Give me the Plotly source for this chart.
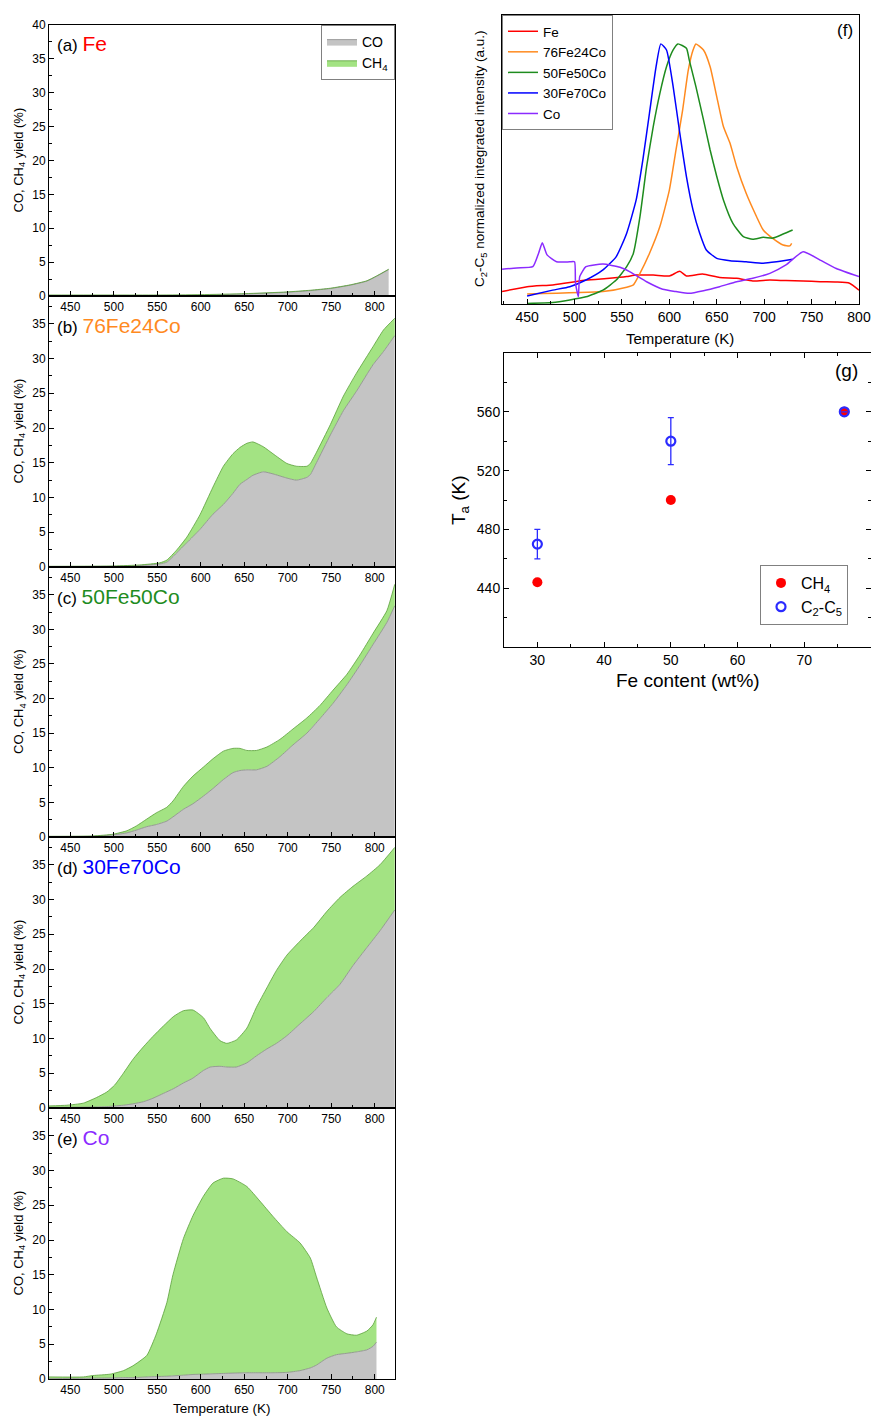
import plotly.graph_objects as go

W, H = 871, 1416
FONT = "Liberation Sans, Arial, sans-serif"

# ---------------- data: panels (a)-(e)  (temperature K, CO yield %, CO+CH4 total %) -------------
T_a = [425, 500, 550, 600, 651, 699, 726, 749, 772, 791, 802, 816]
CO_a = [0.05, 0.05, 0.05, 0.1, 0.3, 0.55, 0.8, 1.1, 1.6, 2.2, 2.9, 3.9]
TOT_a = [0.15, 0.15, 0.15, 0.2, 0.35, 0.6, 0.85, 1.15, 1.65, 2.25, 2.95, 3.95]

T_b = [425, 500, 530, 553, 561, 572, 584, 599, 614, 626, 637, 645, 653, 660, 672, 683,
       699, 710, 722, 726, 733, 749, 764, 779, 798, 810, 823]
CO_b = [0.05, 0.1, 0.2, 0.45, 0.7, 2.0, 3.5, 5.4, 7.6, 9.0, 10.6, 11.9, 12.6, 13.2, 13.7, 13.4,
        12.8, 12.5, 12.9, 13.3, 15.0, 19.0, 22.5, 25.3, 29.1, 31.0, 33.3]
TOT_b = [0.1, 0.15, 0.3, 0.6, 1.0, 2.4, 4.3, 7.5, 11.5, 14.5, 16.3, 17.2, 17.8, 18.0, 17.3, 16.3,
         14.9, 14.5, 14.5, 14.9, 16.5, 20.5, 24.6, 27.9, 31.7, 34.1, 35.8]

T_c = [425, 476, 499, 515, 526, 538, 549, 561, 568, 580, 591, 603, 614, 626, 637, 645, 653,
       664, 676, 691, 706, 722, 737, 752, 768, 783, 798, 814, 823]
CO_c = [0.05, 0.1, 0.3, 0.6, 1.0, 1.5, 1.8, 2.3, 2.9, 4.0, 4.8, 5.9, 7.0, 8.3, 9.3, 9.6, 9.7,
        9.7, 10.2, 11.6, 13.3, 15.0, 17.1, 19.3, 22.0, 24.8, 27.8, 31.0, 33.4]
TOT_c = [0.1, 0.15, 0.4, 0.9, 1.6, 2.6, 3.5, 4.3, 5.2, 7.3, 8.8, 10.1, 11.3, 12.4, 12.8, 12.8, 12.5,
         12.5, 13.0, 14.1, 15.6, 17.2, 19.0, 21.2, 23.5, 26.3, 29.4, 32.7, 36.5]

T_d = [425, 446, 465, 480, 492, 501, 511, 522, 534, 545, 557, 569, 580, 591, 603, 611, 622, 630,
       641, 653, 664, 676, 687, 699, 714, 730, 745, 760, 775, 791, 806, 823]
CO_d = [0.1, 0.1, 0.12, 0.15, 0.2, 0.3, 0.4, 0.6, 0.9, 1.4, 2.1, 2.8, 3.6, 4.3, 5.4, 5.9, 6.0, 5.9,
        5.9, 6.5, 7.5, 8.5, 9.3, 10.4, 12.1, 13.9, 15.9, 17.8, 20.5, 23.1, 25.5, 28.5]
TOT_d = [0.3, 0.4, 0.7, 1.5, 2.3, 3.3, 5.0, 7.0, 8.8, 10.3, 11.8, 13.2, 14.0, 14.1, 13.0, 11.4, 9.7, 9.3,
         9.8, 11.5, 14.5, 17.3, 19.8, 22.0, 24.0, 26.0, 28.3, 30.3, 31.9, 33.4, 35.0, 37.5]

T_e = [425, 465, 476, 496, 511, 522, 538, 549, 561, 568, 580, 591, 603, 614, 626, 637, 653, 668,
       683, 699, 714, 726, 733, 745, 756, 768, 779, 791, 798, 802]
CO_e = [0.05, 0.1, 0.12, 0.15, 0.2, 0.2, 0.3, 0.35, 0.4, 0.45, 0.55, 0.65, 0.7, 0.75, 0.8, 0.85, 0.9, 0.9,
        0.9, 0.95, 1.2, 1.6, 2.0, 3.0, 3.5, 3.7, 3.9, 4.2, 4.7, 5.3]
TOT_e = [0.3, 0.3, 0.5, 0.7, 1.2, 1.9, 3.4, 6.5, 11.0, 15.0, 20.2, 23.5, 26.3, 28.2, 28.9, 28.8, 27.7, 25.6,
         23.4, 21.2, 19.6, 17.4, 14.7, 10.2, 7.5, 6.5, 6.3, 6.9, 7.8, 8.9]

panel_letters = ["(a)", "(b)", "(c)", "(d)", "(e)"]
panel_names = ["Fe", "76Fe24Co", "50Fe50Co", "30Fe70Co", "Co"]
panel_colors = ["#FF0000", "#FF8A1F", "#1E8C1E", "#0000FF", "#8B2BFF"]

# ---------------- data: panel (f)  normalized C2-C5 intensity (a.u.) -------------
f_names = ["Fe", "76Fe24Co", "50Fe50Co", "30Fe70Co", "Co"]
f_T_Fe = [423.6, 450, 477, 495, 512, 537, 555, 565, 583, 600, 611, 618, 635, 653, 671, 688, 706, 723,
          741, 759, 776, 790, 800]
f_I_Fe = [4.3, 6.0, 6.6, 7.4, 8.3, 8.9, 9.5, 10.0, 10.0, 9.7, 11.3, 9.7, 10.4, 9.2, 8.9, 8.0, 8.3, 8.1,
          8.0, 7.7, 7.6, 7.2, 4.8]
f_T_76 = [450, 530, 555, 562, 569, 579, 590, 600, 607, 614, 620, 625, 628, 636, 643, 650, 657, 664,
          671, 681, 692, 699, 709, 720, 727, 729]
f_I_76 = [3.5, 4.3, 5.8, 6.6, 10.6, 17.5, 26.8, 39.4, 53.3, 67.1, 81.0, 87.9, 90.0, 87.9, 82.1, 71.7,
          61.4, 55.6, 47.5, 38.3, 30.2, 25.6, 22.7, 20.4, 20.1, 21.0]
f_T_50 = [450, 477, 495, 512, 530, 544, 555, 562, 569, 576, 583, 590, 597, 604, 609, 618, 621, 628,
          636, 643, 650, 657, 667, 678, 688, 699, 709, 720, 730]
f_I_50 = [0.2, 0.5, 1.4, 2.5, 4.8, 8.3, 12.9, 17.5, 30.2, 47.5, 61.4, 72.9, 82.1, 87.9, 90.0, 88.5,
          84.4, 75.2, 63.7, 53.3, 44.1, 36.0, 27.9, 23.3, 22.4, 23.1, 22.8, 24.2, 25.6]
f_T_30 = [450, 477, 495, 512, 530, 544, 555, 565, 572, 579, 586, 591, 597, 604, 611, 618, 625, 632,
          639, 650, 664, 681, 699, 713, 730]
f_I_30 = [2.8, 4.8, 6.0, 8.3, 11.8, 16.4, 24.5, 36.0, 49.8, 66.0, 82.1, 90.0, 87.9, 75.2, 59.1, 44.1,
          32.5, 24.5, 18.7, 15.8, 15.0, 14.6, 14.1, 14.6, 15.5]
f_T_Co = [423.6, 439, 456, 462, 466, 471, 481, 495, 500, 501, 504, 505.5, 512, 530, 548, 558, 576,
          593, 607, 621, 636, 653, 671, 688, 706, 723, 741, 759, 776, 800]
f_I_Co = [12.0, 12.5, 12.9, 17.5, 21.2, 17.0, 14.6, 14.6, 14.6, 7.2, 2.5, 9.5, 12.9, 13.8, 12.7, 11.2,
          7.7, 5.1, 4.3, 3.7, 4.6, 6.0, 7.7, 8.9, 10.6, 13.5, 18.1, 15.2, 12.3, 9.5]
f_colors = ["#FF0000", "#FF8A1F", "#1E8C1E", "#0000FF", "#8B2BFF"]

# ---------------- data: panel (g) -------------
g_fe = [30, 50, 76]
g_ch4 = [444, 500, 560]
g_c2c5 = [470, 540, 560]
g_c2c5_err = [10, 16, 0]

# ---------------- layout helpers -------------
def px_x(p):
    return p / W

def px_y(p):
    return 1 - p / H

left_dom = [px_x(49), px_x(395)]
rows = [(25, 296), (296, 567), (567, 837), (837, 1108), (1108, 1379)]

GRAY_FILL = "#C4C4C4"
GRAY_LINE = "#8A8A8A"
GREEN_FILL = "#A3E383"
GREEN_LINE = "#5AA03A"

fig = go.Figure()
layout = dict(
    width=W, height=H, margin=dict(l=0, r=0, t=0, b=0, autoexpand=False),
    paper_bgcolor="white", plot_bgcolor="white",
    font=dict(family=FONT, size=12, color="black"),
    showlegend=True,
    annotations=[],
)

T_list = [T_a, T_b, T_c, T_d, T_e]
CO_list = [CO_a, CO_b, CO_c, CO_d, CO_e]
TOT_list = [TOT_a, TOT_b, TOT_c, TOT_d, TOT_e]

for i in range(5):
    n = i + 1
    xa = "x" if n == 1 else f"x{n}"
    ya = "y" if n == 1 else f"y{n}"
    fig.add_trace(go.Scatter(
        x=T_list[i], y=CO_list[i], xaxis=xa, yaxis=ya, mode="lines",
        line=dict(color=GRAY_LINE, width=0.8, shape="spline", smoothing=0.5),
        fill="tozeroy", fillcolor=GRAY_FILL,
        name="CO", legend="legend", showlegend=(i == 0), hoverinfo="skip"))
    fig.add_trace(go.Scatter(
        x=T_list[i], y=TOT_list[i], xaxis=xa, yaxis=ya, mode="lines",
        line=dict(color=GREEN_LINE, width=0.8, shape="spline", smoothing=0.5),
        fill="tonexty", fillcolor=GREEN_FILL,
        name="CH<sub>4</sub>", legend="legend", showlegend=(i == 0), hoverinfo="skip"))

    top, bot = rows[i]
    xkey = "xaxis" if n == 1 else f"xaxis{n}"
    ykey = "yaxis" if n == 1 else f"yaxis{n}"
    layout[xkey] = dict(
        domain=left_dom, anchor=ya, range=[425.5, 823.3], automargin=False,
        tickmode="array", tickvals=[450, 500, 550, 600, 650, 700, 750, 800],
        ticks="inside", ticklen=5, tickwidth=1, tickcolor="black",
        minor=dict(ticks="inside", ticklen=3, dtick=25, tick0=425, tickcolor="black"),
        showline=True, linecolor="black", linewidth=1, mirror=True,
        showgrid=False, zeroline=False, tickfont=dict(size=12, family=FONT),
    )
    yr = [0, 40] if n == 1 else [0, 39]
    layout[ykey] = dict(
        domain=[px_y(bot), px_y(top)], anchor=xa, range=yr, automargin=False,
        dtick=5, tick0=0, ticks="inside", ticklen=5, tickwidth=1, tickcolor="black",
        minor=dict(ticks="inside", ticklen=3, dtick=2.5, tick0=0, tickcolor="black"),
        showline=True, linecolor="black", linewidth=1, mirror=True,
        showgrid=False, zeroline=False, tickfont=dict(size=12, family=FONT),
    )
    ylab = 37.3 if n == 1 else 34.8
    layout["annotations"].append(dict(
        xref=xa, yref=ya, x=432, y=ylab, xanchor="left", yanchor="middle", showarrow=False,
        text=f"{panel_letters[i]} <span style='color:{panel_colors[i]};font-size:21px'>{panel_names[i]}</span>",
        font=dict(size=17, family=FONT, color="black")))
    layout["annotations"].append(dict(
        xref="paper", yref="paper", x=px_x(19), y=px_y((top + bot) / 2), textangle=-90,
        xanchor="center", yanchor="middle", showarrow=False,
        text="CO, CH<sub>4</sub> yield (%)", font=dict(size=13, family=FONT)))

layout["annotations"].append(dict(
    xref="paper", yref="paper", x=px_x(222), y=px_y(1408), xanchor="center", yanchor="middle",
    showarrow=False, text="Temperature (K)", font=dict(size=13.5, family=FONT)))

layout["legend"] = dict(
    x=px_x(395), y=px_y(25), xanchor="right", yanchor="top", traceorder="normal",
    bgcolor="white", bordercolor="#808080", borderwidth=1,
    font=dict(size=14, family=FONT), tracegroupgap=0, itemwidth=30)

# ---------------- panel (f) -------------
f_T = [f_T_Fe, f_T_76, f_T_50, f_T_30, f_T_Co]
f_I = [f_I_Fe, f_I_76, f_I_50, f_I_30, f_I_Co]
for k in range(5):
    fig.add_trace(go.Scatter(
        x=f_T[k], y=f_I[k], xaxis="x6", yaxis="y6", mode="lines",
        line=dict(color=f_colors[k], width=1.5, shape="spline", smoothing=0.5),
        name=f_names[k], legend="legend2", hoverinfo="skip"))

layout["xaxis6"] = dict(
    domain=[px_x(502), px_x(859)], anchor="y6", range=[423.5, 800], automargin=False,
    tickmode="array", tickvals=[450, 500, 550, 600, 650, 700, 750, 800],
    ticks="inside", ticklen=5, tickwidth=1, tickcolor="black",
    minor=dict(ticks="inside", ticklen=3, dtick=25, tick0=425, tickcolor="black"),
    showline=True, linecolor="black", linewidth=1, mirror=True,
    showgrid=False, zeroline=False, tickfont=dict(size=14, family=FONT))
layout["yaxis6"] = dict(
    domain=[px_y(304), px_y(15)], anchor="x6", range=[0, 100], automargin=False,
    showticklabels=False, ticks="", showline=True, linecolor="black", linewidth=1,
    mirror=True, showgrid=False, zeroline=False)
layout["legend2"] = dict(
    x=px_x(502), y=px_y(15), xanchor="left", yanchor="top", traceorder="normal",
    bgcolor="white", bordercolor="#808080", borderwidth=1,
    font=dict(size=13.5, family=FONT), tracegroupgap=0, itemwidth=30)
layout["annotations"] += [
    dict(xref="paper", yref="paper", x=px_x(845), y=px_y(31), xanchor="center", yanchor="middle",
         showarrow=False, text="(f)", font=dict(size=17, family=FONT)),
    dict(xref="paper", yref="paper", x=px_x(680), y=px_y(338), xanchor="center", yanchor="middle",
         showarrow=False, text="Temperature (K)", font=dict(size=15, family=FONT)),
    dict(xref="paper", yref="paper", x=px_x(480), y=px_y(158), xanchor="center", yanchor="middle",
         textangle=-90, showarrow=False,
         text="C<sub>2</sub>-C<sub>5</sub> normalized integrated intensity (a.u.)",
         font=dict(size=13.5, family=FONT)),
]

# ---------------- panel (g) -------------
fig.add_trace(go.Scatter(
    x=g_fe, y=g_ch4, xaxis="x7", yaxis="y7", mode="markers",
    marker=dict(color="#FF0000", size=10, line=dict(width=0)),
    name="CH<sub>4</sub>", legend="legend3", hoverinfo="skip"))
fig.add_trace(go.Scatter(
    x=g_fe, y=g_c2c5, xaxis="x7", yaxis="y7", mode="markers",
    marker=dict(color="rgba(0,0,0,0)", size=9, line=dict(color="#2B2BFF", width=2.2)),
    error_y=dict(type="data", array=g_c2c5_err, visible=True, color="#2B2BFF",
                 thickness=1.3, width=3),
    name="C<sub>2</sub>-C<sub>5</sub>", legend="legend3", hoverinfo="skip"))

layout["xaxis7"] = dict(
    domain=[px_x(504), 1.0], anchor="y7", range=[25, 80], automargin=False,
    tickmode="array", tickvals=[30, 40, 50, 60, 70],
    ticks="inside", ticklen=5, tickwidth=1, tickcolor="black",
    minor=dict(ticks="inside", ticklen=3, dtick=5, tick0=25, tickcolor="black"),
    showline=True, linecolor="black", linewidth=1, mirror="ticks",
    showgrid=False, zeroline=False, tickfont=dict(size=14, family=FONT))
layout["yaxis7"] = dict(
    domain=[px_y(647), px_y(353)], anchor="x7", range=[400, 600], automargin=False,
    tickmode="array", tickvals=[440, 480, 520, 560],
    ticks="inside", ticklen=5, tickwidth=1, tickcolor="black",
    minor=dict(ticks="inside", ticklen=3, dtick=20, tick0=400, tickcolor="black"),
    showline=True, linecolor="black", linewidth=1, mirror="ticks",
    showgrid=False, zeroline=False, tickfont=dict(size=14, family=FONT))
layout["legend3"] = dict(
    x=px_x(760), y=px_y(565), xanchor="left", yanchor="top", traceorder="normal",
    bgcolor="white", bordercolor="#808080", borderwidth=1,
    font=dict(size=16, family=FONT), tracegroupgap=0, itemwidth=30)
layout["annotations"] += [
    dict(xref="paper", yref="paper", x=px_x(846), y=px_y(371), xanchor="center", yanchor="middle",
         showarrow=False, text="(g)", font=dict(size=19, family=FONT)),
    dict(xref="paper", yref="paper", x=px_x(688), y=px_y(681), xanchor="center", yanchor="middle",
         showarrow=False, text="Fe content (wt%)", font=dict(size=19, family=FONT)),
    dict(xref="paper", yref="paper", x=px_x(460), y=px_y(500), xanchor="center", yanchor="middle",
         textangle=-90, showarrow=False, text="T<sub>a</sub> (K)", font=dict(size=19, family=FONT)),
]

fig.update_layout(**layout)
fig.write_html("out.html", config={"displayModeBar": False},
               post_script="document.body.style.margin='0';document.body.style.overflow='hidden';")
